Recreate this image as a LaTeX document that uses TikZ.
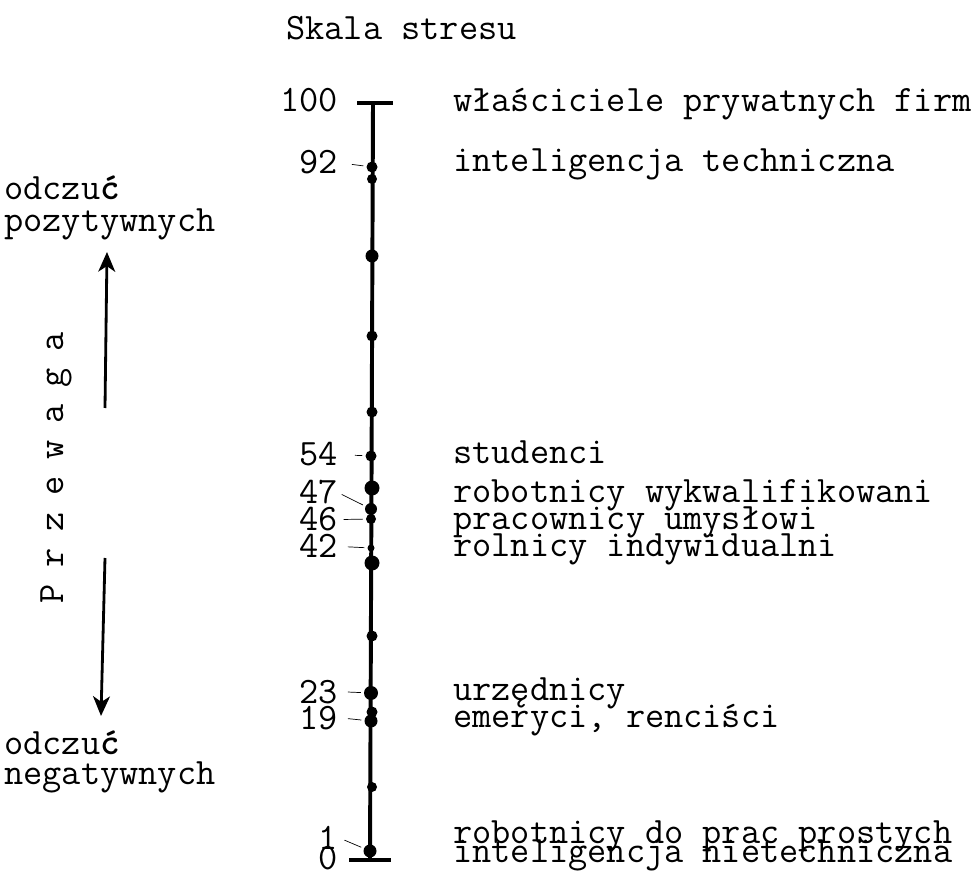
\documentclass[tikz,border=0pt]{standalone}
\usetikzlibrary{arrows.meta}

\begin{document}
\begin{tikzpicture}[x=0.025cm,y=-0.025cm,
    every node/.style={font=\ttfamily\fontsize{26.5}{30}\selectfont,inner sep=0pt},
    num/.style={anchor=base east},
    grp/.style={anchor=base west},
    dot/.style={circle,fill,inner sep=0pt,minimum size=#1*0.025cm},
    tick/.style={line width=0.5pt,shorten <=#1,shorten >=2pt},
    arr/.style={line width=2pt,-{Stealth[length=14pt,width=12pt,inset=4pt]}}]
    \useasboundingbox (0,0) rectangle (976,879);
    \node[grp] (title) at (286,40) {Skala stresu};
    % os skali
    \coordinate (top) at (373,103);
    \coordinate (bot) at (370,860);
    \draw[line width=2.8pt] (top) -- (bot);
    \draw[line width=2.8pt] (top) ++(-16,0) -- ++(36,0);
    \draw[line width=2.8pt] (bot) ++(-21,0) -- ++(42,0);
    \foreach \y/\s in {179/10,256/13,336/11,412/11,488/15,563/15,636/11,712/11,787/10}
        \node[dot=\s] (k\y) at (372,\y) {};
    % grupy z liczbami
    \node[num] (n100) at (338,112) {100};
    \node[grp] (g100) at (453,112) {właściciele prywatnych firm};
    \node[dot=11] (d92) at (372,167) {};
    \node[num] (n92) at (338,174) {92};
    \node[grp] (g92) at (453,172) {inteligencja techniczna};
    \node[dot=11] (d54) at (371,456) {};
    \node[num] (n54) at (338,466) {54};
    \node[grp] (g54) at (453,464) {studenci};
    \node[dot=12] (d47) at (371,509) {};
    \node[num] (n47) at (338,504) {47};
    \node[grp] (g47) at (453,503) {robotnicy wykwalifikowani};
    \node[dot=10] (d46) at (371,519) {};
    \node[num] (n46) at (338,531) {46};
    \node[grp] (g46) at (453,530) {pracownicy umysłowi};
    \node[dot=7] (d42) at (371,548) {};
    \node[num] (n42) at (338,558) {42};
    \node[grp] (g42) at (453,557) {rolnicy indywidualni};
    \node[dot=14] (d23) at (371,693) {};
    \node[num] (n23) at (338,703) {23};
    \node[grp] (g23) at (453,700) {urzędnicy};
    \node[dot=13] (d19) at (371,721) {};
    \node[num] (n19) at (338,729) {19};
    \node[grp] (g19) at (453,727) {emeryci, renciści};
    \node[dot=13] (d1) at (370,851) {};
    \node[num] (n1) at (338,849) {1};
    \node[grp] (g1) at (453,843) {robotnicy do prac prostych};
    \node[num] (n0) at (338,869) {0};
    \node[grp] (g0) at (453,862) {inteligencja nietechniczna};
    \draw[tick=10pt] (n92.east) -- (d92);
    \draw[tick=12pt] (n54.east) -- (d54);
    \draw[tick=3pt] (n47.east) -- (d47);
    \draw[tick=4pt] (n46.east) -- (d46);
    \draw[tick=7pt] (n42.east) -- (d42);
    \draw[tick=7pt] (n23.east) -- (d23);
    \draw[tick=7pt] (n19.east) -- (d19);
    \draw[tick=5pt] (n1.east) -- (d1);
    % przewaga
    \node[grp] (pos1) at (4,200) {odczu\textbf{ć}};
    \node[grp] (pos2) at (4,232) {pozytywnych};
    \node[grp] (neg1) at (4,754) {odczu\textbf{ć}};
    \node[grp] (neg2) at (4,784) {negatywnych};
    \coordinate (up0) at (105,408);
    \coordinate (up1) at (107,252);
    \coordinate (dn0) at (105,558);
    \coordinate (dn1) at (101,716);
    \draw[arr] (up0) -- (up1);
    \draw[arr] (dn0) -- (dn1);
    \foreach \l [count=\i] in {P,r,z,e,w,a,g,a}
        \node[rotate=90,anchor=base] (prz\i) at (63,{594-36*(\i-1)}) {\l};
\end{tikzpicture}
\end{document}
